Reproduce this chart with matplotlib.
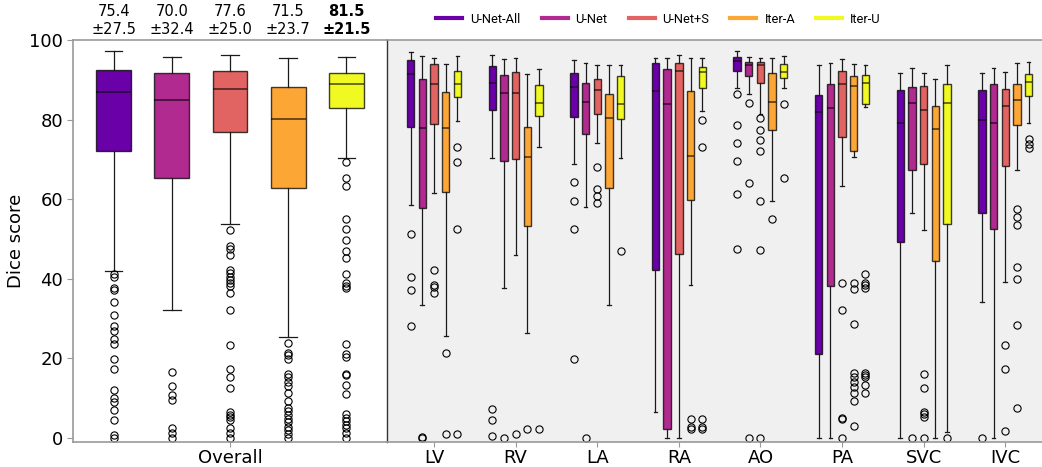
import matplotlib
matplotlib.use("Agg")
import matplotlib.pyplot as plt
from matplotlib.lines import Line2D
from matplotlib import font_manager

models = ["U-Net-All", "U-Net", "U-Net+S", "Iter-A", "Iter-U"]
regions = ["LV", "RV", "LA", "RA", "AO", "PA", "SVC", "IVC"]
model_colors = ["#6a00a8", "#b12a90", "#e16462", "#fca636", "#f0f921"]

# Overall Dice summary per model
overall_mean = [75.4, 70.0, 77.6, 71.5, 81.5]
overall_std = [27.5, 32.4, 25.0, 23.7, 21.5]
overall_lo = [42.0, 32.0, 53.7, 25.3, 70.4]
overall_q1 = [72.2, 65.3, 76.8, 62.8, 82.9]
overall_med = [87.0, 84.8, 87.6, 80.2, 88.9]
overall_q3 = [92.5, 91.7, 92.1, 88.2, 91.7]
overall_hi = [97.3, 95.8, 96.2, 95.5, 95.8]
overall_fliers = [
    [41.1, 40.4, 37.6, 37.1, 34.1, 30.8, 28.1, 26.8, 24.7, 23.5, 19.9, 17.2,
     12.0, 9.9, 9.0, 7.0, 4.4, 0.7, 0.0],
    [16.4, 12.9, 10.8, 9.6, 2.5, 1.3, 0.0],
    [52.3, 48.2, 47.4, 45.9, 42.2, 41.4, 40.5, 39.6, 38.8, 38.1, 36.4, 32.0,
     23.4, 17.2, 15.3, 12.4, 6.4, 5.8, 5.1, 4.4, 2.5, 1.3, 0.0],
    [23.7, 21.4, 20.8, 19.9, 16.0, 15.3, 14.1, 13.0, 11.3, 9.2, 7.4, 6.7,
     5.7, 4.6, 3.9, 2.8, 1.9, 0.9, 0.0],
    [69.3, 65.4, 63.2, 55.1, 52.4, 49.8, 46.9, 45.2, 41.2, 38.9, 38.2, 37.6,
     23.6, 21.1, 20.3, 16.0, 15.7, 13.2, 11.1, 5.9, 4.9, 4.3, 3.2, 2.4, 1.3, 0.0],
]

# Per-structure Dice summary: one row per model, one column per structure
region_lo = [
    [58.6, 70.3, 68.9, 6.5, 88.0, 0.0, 0.0, 34.1],
    [33.3, 37.7, 58.0, 0.0, 86.4, 0.0, 56.6, 0.0],
    [61.6, 45.9, 74.1, 0.0, 81.3, 63.4, 52.3, 39.2],
    [25.5, 26.4, 33.3, 38.5, 59.5, 70.7, 0.0, 67.4],
    [79.7, 73.2, 70.3, 82.2, 88.0, 83.2, 1.5, 79.2],
]
region_q1 = [
    [78.2, 82.3, 80.7, 42.1, 92.3, 21.1, 49.2, 56.5],
    [57.7, 69.6, 76.4, 2.3, 90.9, 38.1, 67.2, 52.6],
    [78.9, 70.0, 81.3, 46.2, 89.2, 75.7, 68.9, 68.2],
    [61.8, 53.2, 62.9, 59.7, 77.5, 72.0, 44.5, 78.7],
    [85.7, 81.0, 80.2, 88.0, 90.5, 84.0, 53.8, 85.9],
]
region_med = [
    [91.5, 89.3, 88.1, 87.2, 94.6, 81.8, 79.2, 79.8],
    [77.8, 86.7, 84.5, 83.8, 93.7, 82.9, 84.2, 79.1],
    [89.0, 86.7, 87.5, 92.2, 93.7, 88.9, 82.4, 83.5],
    [77.8, 70.5, 80.3, 70.8, 84.4, 88.5, 77.6, 84.9],
    [89.0, 84.1, 83.9, 91.9, 92.0, 89.2, 84.1, 89.5],
]
region_q3 = [
    [95.1, 93.5, 91.6, 94.2, 95.7, 86.1, 87.5, 87.4],
    [90.1, 91.2, 89.3, 92.7, 94.4, 89.0, 88.3, 88.9],
    [94.0, 92.0, 90.1, 94.1, 94.4, 92.3, 88.4, 87.6],
    [87.0, 78.1, 86.4, 87.2, 91.7, 91.0, 83.5, 89.0],
    [92.3, 88.7, 91.0, 93.2, 93.9, 91.2, 89.0, 91.4],
]
region_hi = [
    [96.9, 96.3, 95.1, 95.6, 97.3, 93.7, 91.6, 91.6],
    [95.9, 95.3, 94.3, 95.6, 95.8, 94.3, 93.0, 92.9],
    [95.4, 95.6, 93.6, 96.2, 95.5, 95.2, 91.8, 91.9],
    [93.9, 91.5, 93.8, 95.4, 95.5, 93.9, 90.1, 94.2],
    [95.9, 92.8, 93.8, 95.4, 95.9, 93.8, 93.6, 94.4],
]
region_fliers = [
    [[51.1, 40.3, 37.2, 28.0], [7.3, 4.4, 0.4], [64.2, 59.4, 52.6, 19.9], [],
     [86.4, 78.6, 74.0, 69.6, 61.3, 47.5], [], [], [0.0]],
    [[0.2, 0.0], [0.0], [0.0], [], [84.1, 64.0, 0.0], [], [0.0], []],
    [[42.1, 38.3, 37.9, 36.5], [0.9], [68.1, 62.5, 60.8, 59.0], [],
     [80.3, 77.4, 74.9, 72.1, 59.6, 47.3, 0.0], [39.0, 32.0, 5.0, 4.6, 0.0],
     [16.0, 12.4, 6.5, 5.9, 5.3, 0.0], [23.4, 17.2, 1.8]],
    [[21.3, 0.9], [2.2], [], [4.6, 2.8, 2.1], [55.1],
     [38.9, 37.4, 28.7, 16.2, 15.3, 14.1, 12.8, 11.3, 9.2, 3.0], [],
     [57.5, 55.6, 53.4, 42.9, 40.0, 28.3, 7.4]],
    [[73.0, 69.3, 52.4, 0.9], [2.2], [46.9], [79.8, 73.0, 4.6, 2.6, 2.1],
     [83.8, 65.4], [41.2, 39.0, 38.3, 37.7, 16.2, 15.7, 15.3, 13.2, 11.3],
     [0.0], [75.0, 73.9, 72.9]],
]


def _regular(f):
    return f.style == "normal" and f.weight in (400, "normal", "regular")


def legend_font():
    """Pick a narrow sans face for the legend, falling back to Roboto."""
    faces = font_manager.fontManager.ttflist
    for f in faces:
        if f.name == "Liberation Sans Narrow" and _regular(f):
            return font_manager.FontProperties(fname=f.fname, size=10.5)
    for f in faces:
        path = f.fname.replace("\\", "/").split("/")[-1]
        if f.name in ("Noto Sans", "Open Sans") and "Condensed-Regular" in path:
            return font_manager.FontProperties(fname=f.fname, size=9.9)
    return font_manager.FontProperties(family=["Roboto", "DejaVu Sans"], size=9.3)


def box_stats(lo, q1, med, q3, hi, fl):
    return dict(whislo=lo, q1=q1, med=med, q3=q3, whishi=hi, fliers=fl)


def draw_boxes(ax, stats, positions, width, color):
    ax.bxp(
        stats, positions=positions, widths=width, patch_artist=True,
        showfliers=True, manage_ticks=False,
        boxprops=dict(facecolor=color, edgecolor=(0, 0, 0, 0.75), linewidth=1.0),
        medianprops=dict(color=(0, 0, 0, 0.6), linewidth=1.3),
        whiskerprops=dict(color="#1a1a1a", linewidth=0.9),
        capprops=dict(color="#1a1a1a", linewidth=0.9),
        flierprops=dict(marker="o", markerfacecolor="none",
                        markeredgecolor="black", markersize=5.2,
                        markeredgewidth=0.8),
    )


fig = plt.figure(figsize=(10.42, 4.67), dpi=100)
ax_l = fig.add_axes([0.070, 0.0542, 0.3015, 0.8601])
ax_r = fig.add_axes([0.3714, 0.0542, 0.6286, 0.8601])

ylim = (-1.0, 100.0)
spine_gray = "#999999"
label_size = 13

# Overall panel
for i, c in enumerate(model_colors):
    st = [box_stats(overall_lo[i], overall_q1[i], overall_med[i],
                    overall_q3[i], overall_hi[i], overall_fliers[i])]
    draw_boxes(ax_l, st, [i], 0.6, c)
    weight = "bold" if overall_mean[i] == max(overall_mean) else "normal"
    ax_l.text(i, 1.0698, f"{overall_mean[i]:.1f}", transform=ax_l.get_xaxis_transform(),
              ha="center", va="center", fontsize=10.5, fontweight=weight)
    ax_l.text(i, 1.0274, f"±{overall_std[i]:.1f}", transform=ax_l.get_xaxis_transform(),
              ha="center", va="center", fontsize=10.5, fontweight=weight)

ax_l.set_xlim(-0.7, 4.7)
ax_l.set_ylim(*ylim)
ax_l.set_xticks([2])
ax_l.set_xticklabels(["Overall"], fontsize=label_size)
ax_l.set_yticks([0, 20, 40, 60, 80, 100])
ax_l.tick_params(axis="y", labelsize=label_size, color=spine_gray, length=4, pad=3)
ax_l.tick_params(axis="x", color=spine_gray, length=3.5, pad=2)
ax_l.set_ylabel("Dice score", fontsize=label_size, labelpad=3)
for s in ["left", "bottom", "top"]:
    ax_l.spines[s].set_color(spine_gray)
    ax_l.spines[s].set_linewidth(1.2)
ax_l.spines["right"].set_visible(False)

# Per-structure panel
ax_r.set_facecolor("#f0f0f0")
offset = 0.143
for i, c in enumerate(model_colors):
    stats = [box_stats(region_lo[i][k], region_q1[i][k], region_med[i][k],
                       region_q3[i][k], region_hi[i][k], region_fliers[i][k])
             for k in range(len(regions))]
    pos = [k + (i - 2) * offset for k in range(len(regions))]
    draw_boxes(ax_r, stats, pos, 0.09, c)

ax_r.set_xlim(-0.576, 7.45)
ax_r.set_ylim(*ylim)
ax_r.set_xticks(range(len(regions)))
ax_r.set_xticklabels(regions, fontsize=label_size)
ax_r.tick_params(axis="x", color=spine_gray, length=3.5, pad=2)
ax_r.tick_params(axis="y", left=False, labelleft=False)
for s in ["bottom", "top"]:
    ax_r.spines[s].set_color(spine_gray)
    ax_r.spines[s].set_linewidth(1.2)
ax_r.spines["right"].set_visible(False)
ax_r.spines["left"].set_color("#333333")
ax_r.spines["left"].set_linewidth(1.0)

# Legend spacing expressed in pixels, converted to font-size units
leg_prop = legend_font()
em_px = leg_prop.get_size_in_points() * fig.dpi / 72.0
handles = [Line2D([0], [0], color=c, lw=3) for c in model_colors]
fig.legend(handles, models, loc="center", bbox_to_anchor=(0.632, 0.959),
           ncol=5, frameon=False, handlelength=26 / em_px,
           handletextpad=8 / em_px, columnspacing=21 / em_px, prop=leg_prop)

fig.savefig("out.png", dpi=100)
